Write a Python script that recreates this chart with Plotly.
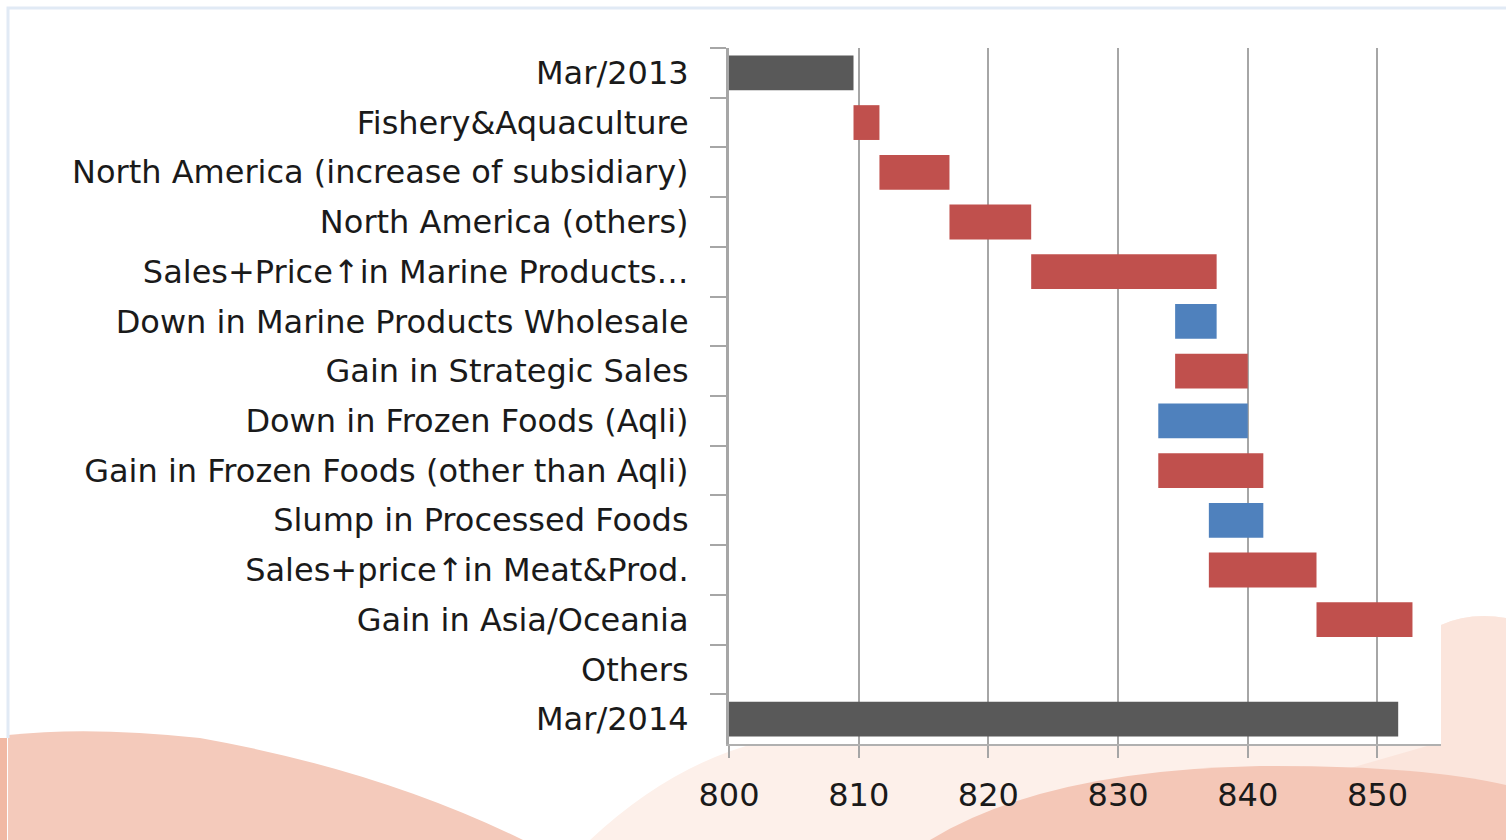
import plotly.graph_objects as go

# ---- data ----
categories = [
    "Mar/2013",
    "Fishery&Aquaculture",
    "North America (increase of subsidiary)",
    "North America (others)",
    "Sales+Price↑in Marine Products…",
    "Down in Marine Products Wholesale",
    "Gain in Strategic Sales",
    "Down in Frozen Foods (Aqli)",
    "Gain in Frozen Foods (other than Aqli)",
    "Slump in Processed Foods",
    "Sales+price↑in Meat&Prod.",
    "Gain in Asia/Oceania",
    "Others",
    "Mar/2014",
]
start_total = 809.6
end_total = 851.6
changes = [2.0, 5.4, 6.3, 14.3, -3.2, 5.6, -6.9, 8.1, -4.2, 8.3, 7.4, 0.0]
axis_base = 800
x_ticks = [800, 810, 820, 830, 840, 850]

# ---- build waterfall segments ----
GRAY, RED, BLUE = "#595959", "#c0504d", "#4f81bd"
bases, lengths, colors = [axis_base], [start_total - axis_base], [GRAY]
level = start_total
for c in changes:
    new = level + c
    bases.append(min(level, new))
    lengths.append(abs(c))
    colors.append(RED if c >= 0 else BLUE)
    level = new
bases.append(axis_base)
lengths.append(end_total - axis_base)
colors.append(GRAY)

fig = go.Figure(go.Bar(
    y=categories, x=lengths, base=bases, orientation="h",
    marker=dict(color=colors, line=dict(width=0)),
    hoverinfo="skip",
))

W, H = 1506, 840
L, R, T, B = 729, 1441, 48, 744


def px(x):
    return (x - L) / (R - L)


def py(y):
    return (B - y) / (B - T)


def path(points_cmds):
    out = []
    for cmd, pts in points_cmds:
        coords = " ".join(f"{px(a):.5f},{py(b):.5f}" for a, b in pts)
        out.append(f"{cmd} {coords}")
    return " ".join(out) + " Z"


shapes = []
# light pink background wave on right / bottom
shapes.append(dict(
    type="path", xref="paper", yref="paper", layer="below", line=dict(width=0),
    fillcolor="#fdf0ea",
    path=path([("M", [(590, 840)]), ("Q", [(670, 765), (760, 742)]),
               ("L", [(1441, 742)]), ("L", [(1441, 625)]),
               ("Q", [(1470, 612), (1506, 618)]), ("L", [(1506, 840)])]),
))
# slightly deeper pink on right side
shapes.append(dict(
    type="path", xref="paper", yref="paper", layer="below", line=dict(width=0),
    fillcolor="#fbe5dc",
    path=path([("M", [(1441, 742)]), ("L", [(1441, 625)]),
               ("Q", [(1470, 612), (1506, 618)]), ("L", [(1506, 840)]),
               ("L", [(1100, 840)])]),
))
# darker salmon wave bottom right
shapes.append(dict(
    type="path", xref="paper", yref="paper", layer="below", line=dict(width=0),
    fillcolor="#f4c7b7",
    path=path([("M", [(930, 840)]), ("Q", [(1045, 770), (1260, 766)]),
               ("Q", [(1420, 765), (1506, 785)]), ("L", [(1506, 840)])]),
))
# left salmon wave
shapes.append(dict(
    type="path", xref="paper", yref="paper", layer="below", line=dict(width=0),
    fillcolor="#f4cabb",
    path=path([("M", [(8, 735)]), ("Q", [(90, 726), (200, 738)]),
               ("Q", [(380, 770), (523, 840)]), ("L", [(8, 840)])]),
))
# left darker strip
shapes.append(dict(
    type="rect", xref="paper", yref="paper", layer="below", line=dict(width=0),
    fillcolor="#f1b9a4", x0=px(0), x1=px(7), y0=py(840), y1=py(738),
))
# panel border (top and left)
shapes.append(dict(
    type="path", xref="paper", yref="paper", layer="below",
    line=dict(color="#e1eaf5", width=3),
    path=f"M {px(8):.5f},{py(738):.5f} L {px(8):.5f},{py(8):.5f} L {px(1506):.5f},{py(8):.5f}",
))
# white plot area
shapes.append(dict(
    type="rect", xref="paper", yref="paper", layer="below", line=dict(width=0),
    fillcolor="white", x0=0, x1=1, y0=0, y1=1,
))

FONT = "'DejaVu Sans', Verdana, sans-serif"

fig.update_layout(
    width=W, height=H,
    margin=dict(l=L, r=W - R, t=T, b=H - B, pad=0),
    paper_bgcolor="white", plot_bgcolor="white",
    bargap=0.3, showlegend=False,
    font=dict(family=FONT, size=32, color="#1a1a1a"),
    shapes=shapes,
    xaxis=dict(
        range=[800, 854.9], tickvals=x_ticks, ticktext=[str(v) for v in x_ticks],
        showgrid=True, gridcolor="#a6a6a6", gridwidth=2,
        showline=True, linecolor="#b0b0b0", linewidth=2,
        ticks="outside", ticklen=12, tickwidth=2, tickcolor="#a6a6a6",
        ticklabelstandoff=10, zeroline=False,
        tickfont=dict(family=FONT, size=32, color="#1a1a1a"),
    ),
    yaxis=dict(
        type="category", autorange="reversed",
        showgrid=False, showline=True, linecolor="#a6a6a6", linewidth=3,
        ticks="outside", ticklen=16, tickwidth=2, tickcolor="#a6a6a6",
        tickson="boundaries", ticklabelstandoff=31,
        tickfont=dict(family=FONT, size=32, color="#1a1a1a"),
    ),
)

fig.write_html(
    "out.html",
    config={"displayModeBar": False},
    post_script="document.body.style.margin='0';document.body.style.overflow='hidden';",
)
